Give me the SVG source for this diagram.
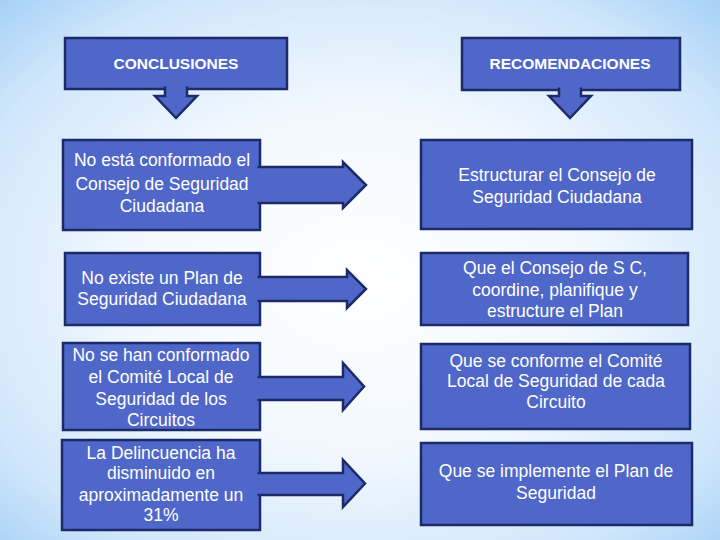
<svg xmlns="http://www.w3.org/2000/svg" width="720" height="540" viewBox="0 0 720 540">
<defs>
<radialGradient id="bg" cx="50%" cy="52%" r="72%">
<stop offset="0" stop-color="#ffffff"/>
<stop offset="0.45" stop-color="#f2f8fe"/>
<stop offset="0.8" stop-color="#cfe6fb"/>
<stop offset="1" stop-color="#a6d1f6"/>
</radialGradient>
<style>
.box{fill:#4f67c9;stroke:#1c2a68;stroke-width:2.5}
.arr{fill:#4f67c9;stroke:#1c2a68;stroke-width:2.5;stroke-linejoin:miter}
.t{fill:#ffffff;font-family:"Liberation Sans",Arial,sans-serif;font-size:17.5px;text-anchor:middle}
.h{fill:#ffffff;font-family:"Liberation Sans",Arial,sans-serif;font-size:15.5px;font-weight:bold;text-anchor:middle}
</style>
</defs>
<rect x="0" y="0" width="720" height="540" fill="url(#bg)"/>

<g id="hdr-conclusiones">
<rect class="box" x="65" y="38" width="222" height="51"/>
<text class="h" x="176" y="69">CONCLUSIONES</text>
</g>
<g id="hdr-recomendaciones">
<rect class="box" x="462" y="38" width="218" height="52"/>
<text class="h" x="570" y="69">RECOMENDACIONES</text>
</g>

<g id="c1">
<rect class="box" x="63" y="140" width="197" height="90"/>
<text class="t" x="162" y="166">No está conformado el</text>
<text class="t" x="162" y="190">Consejo de Seguridad</text>
<text class="t" x="162" y="212">Ciudadana</text>
</g>
<g id="c2">
<rect class="box" x="65" y="253" width="195" height="72"/>
<text class="t" x="162" y="284">No existe un Plan de</text>
<text class="t" x="162" y="305">Seguridad Ciudadana</text>
</g>
<g id="c3">
<rect class="box" x="63" y="343" width="197" height="87"/>
<text class="t" x="161" y="361">No se han conformado</text>
<text class="t" x="161" y="383">el Comité Local de</text>
<text class="t" x="161" y="405">Seguridad de los</text>
<text class="t" x="161" y="426">Circuitos</text>
</g>
<g id="c4">
<rect class="box" x="62" y="440" width="198" height="90"/>
<text class="t" x="161" y="459">La Delincuencia ha</text>
<text class="t" x="161" y="479">disminuido en</text>
<text class="t" x="161" y="501">aproximadamente un</text>
<text class="t" x="161" y="521">31%</text>
</g>

<g id="r1">
<rect class="box" x="421" y="140" width="271" height="89"/>
<text class="t" x="557" y="181">Estructurar el Consejo de</text>
<text class="t" x="557" y="203">Seguridad Ciudadana</text>
</g>
<g id="r2">
<rect class="box" x="421" y="253" width="267" height="72"/>
<text class="t" x="555" y="274">Que el Consejo de S C,</text>
<text class="t" x="555" y="296">coordine, planifique y</text>
<text class="t" x="555" y="317">estructure el Plan</text>
</g>
<g id="r3">
<rect class="box" x="421" y="344" width="269" height="85"/>
<text class="t" x="556" y="367">Que se conforme el Comité</text>
<text class="t" x="556" y="387">Local de Seguridad de cada</text>
<text class="t" x="556" y="408">Circuito</text>
</g>
<g id="r4">
<rect class="box" x="421" y="443" width="271" height="82"/>
<text class="t" x="556" y="477">Que se implemente el Plan de</text>
<text class="t" x="556" y="499">Seguridad</text>
</g>

<g id="connectors">
<path class="arr" d="M165,86.5 V96 H155 L176,118 L197,96 H187 V86.5"/>
<path class="arr" d="M559,87.5 V96 H549 L570,118 L591,96 H581 V87.5"/>
<path class="arr" d="M257.5,167 H343 V162 L366,185 L343,208 V203 H257.5"/>
<path class="arr" d="M257.5,277 H347 V270 L366,289 L347,308 V301 H257.5"/>
<path class="arr" d="M257.5,377 H343 V363 L364,386.5 L343,410 V400 H257.5"/>
<path class="arr" d="M257.5,473 H343 V460 L365,483.5 L343,507 V495 H257.5"/>
</g>
</svg>
